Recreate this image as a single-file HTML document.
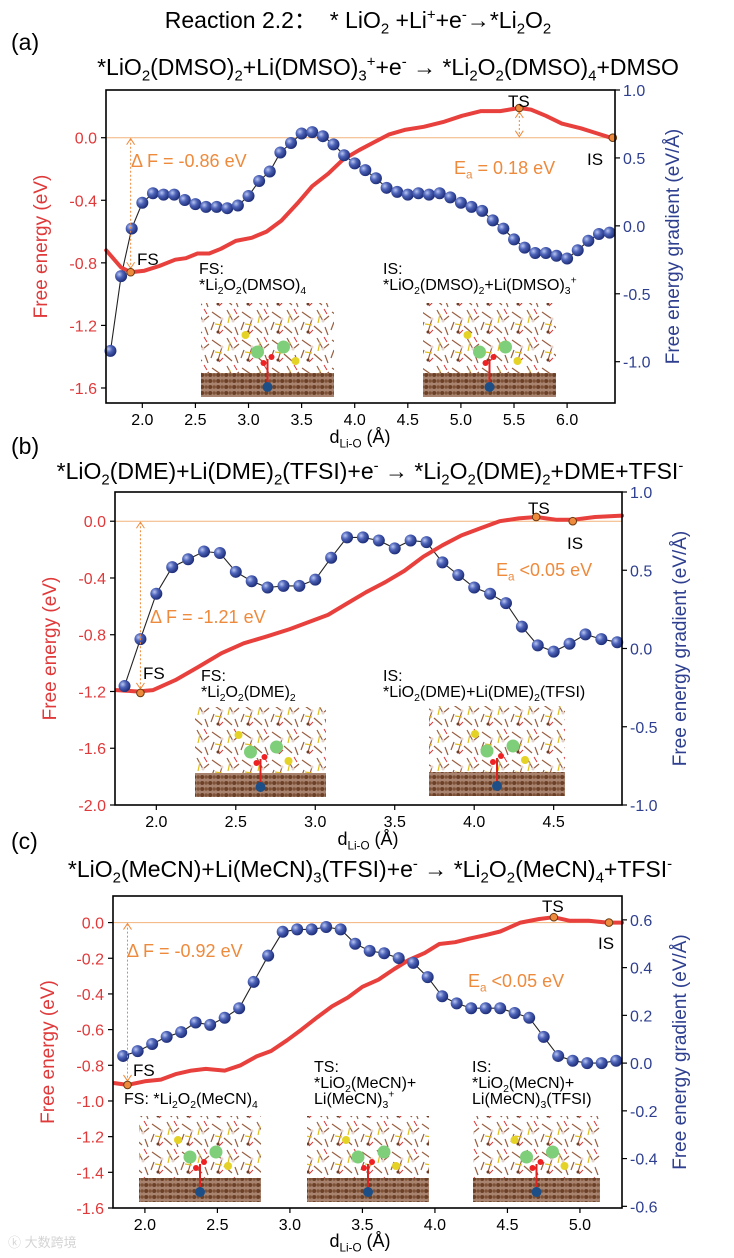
<!DOCTYPE html>
<html><head><meta charset="utf-8">
<style>
html,body{margin:0;padding:0;background:#fff;}
body{width:734px;height:1258px;position:relative;overflow:hidden;font-family:"Liberation Sans","Noto Sans CJK SC",sans-serif;}
.t{position:absolute;white-space:nowrap;line-height:1;}
.c{transform:translateX(-50%);}
sub,sup{font-size:65%;line-height:0;}
svg{position:absolute;left:0;top:0;}
.lab{font-size:16px;color:#000;}
.org{color:#ee8a3c;font-size:18px;}
</style></head>
<body>
<svg id="chart" width="734" height="1258" viewBox="0 0 734 1258">
<defs>
<radialGradient id="ball" cx="35%" cy="35%" r="65%">
<stop offset="0" stop-color="#b9c6f2"/><stop offset="0.45" stop-color="#4d63b8"/><stop offset="1" stop-color="#1f2f7a"/>
</radialGradient>
<pattern id="slab" width="8" height="6" patternUnits="userSpaceOnUse">
<rect width="8" height="6" fill="#a88470"/><circle cx="2.2" cy="3" r="2" fill="#6b4026"/><circle cx="6.2" cy="3" r="1.7" fill="#7e5236"/>
</pattern>
<pattern id="mol" width="30" height="28" patternUnits="userSpaceOnUse">
<path d="M2 4 L12 11 L8 24 M17 2 L23 13 L29 8 M14 18 L22 25 M25 19 L28 27 M4 14 L1 22" stroke="#9a5e40" stroke-width="1.2" fill="none"/>
<path d="M5 16 L12 17 M20 6 L18 15" stroke="#e0c020" stroke-width="1.2"/>
<path d="M24 1 L27 6 M9 26 L13 22" stroke="#d33" stroke-width="1"/>
<circle cx="12" cy="11" r="1.5" fill="#e3d3cc"/><circle cx="23" cy="13" r="1.5" fill="#e3d3cc"/><circle cx="8" cy="24" r="1.5" fill="#6b3e26"/>
</pattern>
</defs>
</svg>

<div class="t c" style="left:358px;top:9px;font-size:23px;">Reaction 2.2：&nbsp; * LiO<sub>2</sub> +Li<sup>+</sup>+e<sup>-</sup>→*Li<sub>2</sub>O<sub>2</sub></div>

<div class="t" style="left:11px;top:31px;font-size:23px;">(a)</div>
<div class="t c" style="left:388px;top:56px;font-size:23px;">*LiO<sub>2</sub>(DMSO)<sub>2</sub>+Li(DMSO)<sub>3</sub><sup>+</sup>+e<sup>-</sup> → *Li<sub>2</sub>O<sub>2</sub>(DMSO)<sub>4</sub>+DMSO</div>

<div class="t" style="left:11px;top:435px;font-size:23px;">(b)</div>
<div class="t c" style="left:370px;top:460px;font-size:23px;">*LiO<sub>2</sub>(DME)+Li(DME)<sub>2</sub>(TFSI)+e<sup>-</sup> → *Li<sub>2</sub>O<sub>2</sub>(DME)<sub>2</sub>+DME+TFSI<sup>-</sup></div>

<div class="t" style="left:11px;top:830px;font-size:23px;">(c)</div>
<div class="t c" style="left:370px;top:858px;font-size:23px;">*LiO<sub>2</sub>(MeCN)+Li(MeCN)<sub>3</sub>(TFSI)+e<sup>-</sup> → *Li<sub>2</sub>O<sub>2</sub>(MeCN)<sub>4</sub>+TFSI<sup>-</sup></div>

<div class="t lab" style="left:199px;top:262px;">FS:<br>*Li<sub>2</sub>O<sub>2</sub>(DMSO)<sub>4</sub></div>
<div class="t lab" style="left:383px;top:262px;">IS:<br>*LiO<sub>2</sub>(DMSO)<sub>2</sub>+Li(DMSO)<sub>3</sub><sup>+</sup></div>
<div class="t org" style="left:131px;top:152px;">Δ F = -0.86 eV</div>
<div class="t org" style="left:454px;top:159px;">E<sub>a</sub> = 0.18 eV</div>

<div class="t lab" style="left:201px;top:669px;">FS:<br>*Li<sub>2</sub>O<sub>2</sub>(DME)<sub>2</sub></div>
<div class="t lab" style="left:383px;top:669px;">IS:<br>*LiO<sub>2</sub>(DME)+Li(DME)<sub>2</sub>(TFSI)</div>
<div class="t org" style="left:150px;top:608px;">Δ F = -1.21 eV</div>
<div class="t org" style="left:496px;top:561px;">E<sub>a</sub> &lt;0.05 eV</div>

<div class="t lab" style="left:124px;top:1092px;">FS: *Li<sub>2</sub>O<sub>2</sub>(MeCN)<sub>4</sub></div>
<div class="t lab" style="left:314px;top:1060px;">TS:<br>*LiO<sub>2</sub>(MeCN)+<br>Li(MeCN)<sub>3</sub><sup>+</sup></div>
<div class="t lab" style="left:472px;top:1060px;">IS:<br>*LiO<sub>2</sub>(MeCN)+<br>Li(MeCN)<sub>3</sub>(TFSI)</div>
<div class="t org" style="left:127px;top:942px;">Δ F = -0.92 eV</div>
<div class="t org" style="left:468px;top:972px;">E<sub>a</sub> &lt;0.05 eV</div>

<div class="t c" style="left:360px;top:428px;font-size:18px;">d<sub>Li-O</sub> (Å)</div>
<div class="t c" style="left:368px;top:830px;font-size:18px;">d<sub>Li-O</sub> (Å)</div>
<div class="t c" style="left:360px;top:1232px;font-size:18px;">d<sub>Li-O</sub> (Å)</div>

<div class="t" style="left:8px;top:1236px;font-size:13px;color:#d4d4d4;">ⓚ 大数跨境</div>

<script>
// ---- Panel (a) data ----
const aGradX = [1.7,1.8,1.9,2.0,2.1,2.2,2.3,2.4,2.5,2.6,2.7,2.8,2.9,3.0,3.1,3.2,3.3,3.4,3.5,3.6,3.7,3.8,3.9,4.0,4.1,4.2,4.3,4.4,4.5,4.6,4.7,4.8,4.9,5.0,5.1,5.2,5.3,5.4,5.5,5.6,5.7,5.8,5.9,6.0,6.1,6.2,6.3,6.4];
const aGrad = [-0.92,-0.37,-0.02,0.17,0.24,0.23,0.23,0.19,0.16,0.14,0.14,0.13,0.15,0.22,0.33,0.40,0.54,0.61,0.68,0.69,0.66,0.60,0.52,0.46,0.41,0.35,0.28,0.25,0.23,0.24,0.23,0.24,0.21,0.17,0.14,0.11,0.04,-0.02,-0.10,-0.16,-0.20,-0.20,-0.22,-0.24,-0.18,-0.11,-0.06,-0.05];
const aEnX = [1.66,1.80,1.89,2.02,2.16,2.31,2.41,2.52,2.63,2.74,2.88,3.03,3.17,3.31,3.46,3.60,3.75,3.89,4.04,4.18,4.32,4.47,4.65,4.83,5.01,5.19,5.37,5.55,5.66,5.80,5.95,6.13,6.27,6.41];
const aEn = [-0.72,-0.83,-0.86,-0.85,-0.82,-0.78,-0.77,-0.74,-0.74,-0.71,-0.66,-0.64,-0.60,-0.53,-0.42,-0.31,-0.23,-0.14,-0.08,-0.03,0.02,0.05,0.07,0.10,0.14,0.17,0.17,0.19,0.18,0.14,0.09,0.06,0.03,0.00];
const aStatesX = [1.89,5.55,6.43];
const aStatesY = [-0.86,0.19,0.00];
const aXTicks = [2.0,2.5,3.0,3.5,4.0,4.5,5.0,5.5,6.0];
const aLTicks = [0.0,-0.4,-0.8,-1.2,-1.6];
const aRTicks = [1.0,0.5,0.0,-0.5,-1.0];

// ---- Panel (b) data ----
const bGradX = [1.8,1.9,2.0,2.1,2.2,2.3,2.4,2.5,2.6,2.7,2.8,2.9,3.0,3.1,3.2,3.3,3.4,3.5,3.6,3.7,3.8,3.9,4.0,4.1,4.2,4.3,4.4,4.5,4.6,4.7,4.8,4.9];
const bGrad = [-0.24,0.06,0.35,0.52,0.57,0.62,0.61,0.49,0.43,0.39,0.40,0.40,0.44,0.58,0.71,0.71,0.69,0.64,0.69,0.68,0.55,0.47,0.39,0.35,0.29,0.14,0.02,-0.02,0.03,0.09,0.06,0.04];
const bEnX = [1.75,1.88,1.98,2.12,2.26,2.41,2.55,2.70,2.84,2.96,3.08,3.20,3.32,3.44,3.56,3.68,3.80,3.92,4.04,4.16,4.28,4.39,4.52,4.62,4.76,4.93];
const bEn = [-1.19,-1.20,-1.19,-1.12,-1.03,-0.93,-0.86,-0.81,-0.76,-0.71,-0.66,-0.58,-0.50,-0.43,-0.35,-0.25,-0.17,-0.10,-0.05,0.00,0.02,0.03,0.01,0.01,0.03,0.04];
const bStatesX = [1.90,4.39,4.62];
const bStatesY = [-1.21,0.03,0.00];
const bXTicks = [2.0,2.5,3.0,3.5,4.0,4.5];
const bLTicks = [0.0,-0.4,-0.8,-1.2,-1.6,-2.0];
const bRTicks = [1.0,0.5,0.0,-0.5,-1.0];

// ---- Panel (c) data ----
const cGradX = [1.85,1.95,2.05,2.15,2.25,2.35,2.45,2.55,2.65,2.75,2.85,2.95,3.05,3.15,3.25,3.35,3.45,3.55,3.65,3.75,3.85,3.95,4.05,4.15,4.25,4.35,4.45,4.55,4.65,4.75,4.85,4.95,5.05,5.15,5.25];
const cGrad = [0.03,0.05,0.08,0.11,0.13,0.17,0.16,0.19,0.23,0.34,0.45,0.55,0.56,0.56,0.57,0.56,0.50,0.47,0.46,0.44,0.42,0.36,0.28,0.25,0.23,0.23,0.23,0.21,0.19,0.11,0.03,0.01,0.00,0.00,0.01];
const cEnX = [1.79,1.88,2.00,2.11,2.21,2.32,2.42,2.55,2.66,2.77,2.87,2.98,3.08,3.19,3.29,3.40,3.50,3.61,3.72,3.82,3.93,4.03,4.14,4.24,4.35,4.45,4.59,4.72,4.82,4.93,5.06,5.19,5.29];
const cEn = [-0.90,-0.91,-0.89,-0.88,-0.85,-0.83,-0.82,-0.83,-0.80,-0.75,-0.72,-0.66,-0.60,-0.53,-0.47,-0.42,-0.36,-0.32,-0.26,-0.21,-0.17,-0.12,-0.11,-0.09,-0.07,-0.05,0.00,0.02,0.03,0.01,0.01,0.00,0.00];
const cStatesX = [1.88,4.82,5.20];
const cStatesY = [-0.91,0.03,0.00];
const cXTicks = [2.0,2.5,3.0,3.5,4.0,4.5,5.0];
const cLTicks = [0.0,-0.2,-0.4,-0.6,-0.8,-1.0,-1.2,-1.4,-1.6];
const cRTicks = [0.6,0.4,0.2,0.0,-0.2,-0.4,-0.6];

const NS = 'http://www.w3.org/2000/svg';
const svg = document.getElementById('chart');
function mk(tag, attrs, parent){
  const e = document.createElementNS(NS, tag);
  for (const k in attrs) e.setAttribute(k, attrs[k]);
  (parent||svg).appendChild(e);
  return e;
}
function panel(p){
  const g = mk('g', {});
  
  
  const sx = v => p.L + (v - p.x0) / (p.x1 - p.x0) * (p.R - p.L);
  const syl = v => p.T + (p.l1 - v) / (p.l1 - p.l0) * (p.B - p.T);
  const syr = v => p.T + (p.r1 - v) / (p.r1 - p.r0) * (p.B - p.T);

  p.insets.forEach((r) => {
    const ig = mk('g', {}, g);
    
    
    mk('rect', {x:r[0], y:r[1], width:r[2]-r[0], height:r[3]-r[1]-22, fill:'url(#mol)'}, ig);
    mk('rect', {x:r[0], y:r[3]-24, width:r[2]-r[0], height:24, fill:'url(#slab)'}, ig);
    const cx = (r[0]+r[2])/2, cy = r[3];
    mk('line', {x1:cx, y1:cy-12, x2:cx, y2:cy-38, stroke:'#d22', 'stroke-width':2}, ig);
    mk('circle', {cx:cx, cy:cy-10, r:5, fill:'#1d4f86'}, ig);
    mk('circle', {cx:cx-10, cy:cy-45, r:6.5, fill:'#7fcf7a'}, ig);
    mk('circle', {cx:cx+16, cy:cy-50, r:6.5, fill:'#7fcf7a'}, ig);
    mk('circle', {cx:cx+4, cy:cy-40, r:3, fill:'#e22'}, ig);
    mk('circle', {cx:cx-4, cy:cy-34, r:3, fill:'#e22'}, ig);
    mk('circle', {cx:cx-22, cy:cy-62, r:4, fill:'#e5d226'}, ig);
    mk('circle', {cx:cx+28, cy:cy-36, r:4, fill:'#e5d226'}, ig);
  });

  const zl = mk('line', {x1:p.L, x2:p.R, y1:syl(0), y2:syl(0), stroke:'#f2b27a', 'stroke-width':1}, g);
  
  

  let d = '';
  p.gx.forEach((x, i) => { d += (i ? 'L' : 'M') + sx(x).toFixed(1) + ' ' + syr(p.gy[i]).toFixed(1); });
  const gl = mk('path', {d:d, fill:'none', stroke:'#222', 'stroke-width':1.1}, g);
  
  

  let e = '';
  p.ex.forEach((x, i) => { e += (i ? 'L' : 'M') + sx(x).toFixed(1) + ' ' + syl(p.ey[i]).toFixed(1); });
  const el = mk('path', {d:e, fill:'none', stroke:'#e8403c', 'stroke-width':4, 'stroke-linejoin':'round', 'stroke-linecap':'round'}, g);
  
  

  p.gx.forEach((x, i) => {
    const c = mk('circle', {cx:sx(x), cy:syr(p.gy[i]), r:6, fill:'url(#ball)'}, g);
    
    
  });

  const ax = sx(p.sx[0]);
  const ar = mk('line', {x1:ax, x2:ax, y1:syl(0)+1, y2:syl(p.sy[0])-4, stroke:'#ee8a3c', 'stroke-width':1, 'stroke-dasharray':'2 2'}, g);
  
  
  mk('path', {d:`M${ax-4} ${syl(0)+7}L${ax} ${syl(0)+1}L${ax+4} ${syl(0)+7}M${ax-4} ${syl(p.sy[0])-10}L${ax} ${syl(p.sy[0])-4}L${ax+4} ${syl(p.sy[0])-10}`, fill:'none', stroke:'#ee8a3c', 'stroke-width':1}, g);
  if (p.tsArrow) {
    const tx = sx(p.sx[1]);
    mk('line', {x1:tx, x2:tx, y1:syl(p.sy[1])+4, y2:syl(0)-1, stroke:'#ee8a3c', 'stroke-width':1, 'stroke-dasharray':'2 2'}, g);
    mk('path', {d:`M${tx-4} ${syl(p.sy[1])+10}L${tx} ${syl(p.sy[1])+4}L${tx+4} ${syl(p.sy[1])+10}M${tx-4} ${syl(0)-7}L${tx} ${syl(0)-1}L${tx+4} ${syl(0)-7}`, fill:'none', stroke:'#ee8a3c', 'stroke-width':1}, g);
  }

  const names = ['FS','TS','IS'];
  p.sx.forEach((x, i) => {
    const m = mk('circle', {cx:sx(x), cy:syl(p.sy[i]), r:3.8, fill:'#ee8a3c', stroke:'#6b3a10', 'stroke-width':1}, g);
    
    
  });
  p.stateLabels.forEach(s => {
    const t = mk('text', {x:s[1], y:s[2], 'font-size':17, fill:'#000'}, g);
    t.textContent = s[0];
    
    
  });

  const fr = mk('rect', {x:p.L, y:p.T, width:p.R-p.L, height:p.B-p.T, fill:'none', stroke:'#000', 'stroke-width':1.6}, g);
  
  

  p.xt.forEach(v => {
    mk('line', {x1:sx(v), x2:sx(v), y1:p.B, y2:p.B+5, stroke:'#000', 'stroke-width':1.2}, g);
    const t = mk('text', {x:sx(v), y:p.B+22, 'font-size':16, 'text-anchor':'middle', fill:'#000'}, g);
    t.textContent = v.toFixed(1);
    
    
  });
  p.lt.forEach(v => {
    mk('line', {x1:p.L-5, x2:p.L, y1:syl(v), y2:syl(v), stroke:'#000', 'stroke-width':1.2}, g);
    const t = mk('text', {x:p.L-9, y:syl(v)+6, 'font-size':16, 'text-anchor':'end', fill:'#e0393a'}, g);
    t.textContent = v.toFixed(1);
    
    
  });
  p.rt.forEach(v => {
    mk('line', {x1:p.R, x2:p.R+5, y1:syr(v), y2:syr(v), stroke:'#000', 'stroke-width':1.2}, g);
    const t = mk('text', {x:p.R+8, y:syr(v)+6, 'font-size':16, 'text-anchor':'start', fill:'#2e3f8f'}, g);
    t.textContent = v.toFixed(1);
    
    
  });
  const cy = (p.T + p.B) / 2;
  const yl = mk('text', {x:0, y:0, 'font-size':19, 'text-anchor':'middle', fill:'#e0393a', transform:`translate(${p.L-59},${cy}) rotate(-90)`}, g);
  yl.textContent = 'Free energy (eV)';
  
  
  const yr = mk('text', {x:0, y:0, 'font-size':19, 'text-anchor':'middle', fill:'#2e3f8f', transform:`translate(${p.R+64},${cy}) rotate(-90)`}, g);
  yr.textContent = 'Free energy gradient (eV/Å)';
  
  
}

panel({id:'a', L:106, R:615, T:90, B:403, x0:1.658, x1:6.451, l0:-1.696, l1:0.305, r0:-1.304, r1:1.0,
  gx:aGradX, gy:aGrad, ex:aEnX, ey:aEn, sx:aStatesX, sy:aStatesY, xt:aXTicks, lt:aLTicks, rt:aRTicks, tsArrow:true,
  stateLabels:[['FS',137,265],['TS',508,107],['IS',587,165]],
  insets:[[201,303,334,397],[423,303,556,397]]});
panel({id:'b', L:115, R:622, T:492, B:805, x0:1.74, x1:4.93, l0:-2.0, l1:0.206, r0:-1.0, r1:1.0,
  gx:bGradX, gy:bGrad, ex:bEnX, ey:bEn, sx:bStatesX, sy:bStatesY, xt:bXTicks, lt:bLTicks, rt:bRTicks, tsArrow:false,
  stateLabels:[['FS',143,679],['TS',528,514],['IS',567,549]],
  insets:[[195,707,326,797],[429,706,565,796]]});
panel({id:'c', L:113, R:622, T:896, B:1208, x0:1.78, x1:5.29, l0:-1.6, l1:0.149, r0:-0.607, r1:0.70,
  gx:cGradX, gy:cGrad, ex:cEnX, ey:cEn, sx:cStatesX, sy:cStatesY, xt:cXTicks, lt:cLTicks, rt:cRTicks, tsArrow:false,
  stateLabels:[['FS',133,1076],['TS',542,912],['IS',598,949]],
  insets:[[139,1116,261,1202],[307,1116,429,1202],[473,1116,600,1202]]});
</script>
</body></html>
